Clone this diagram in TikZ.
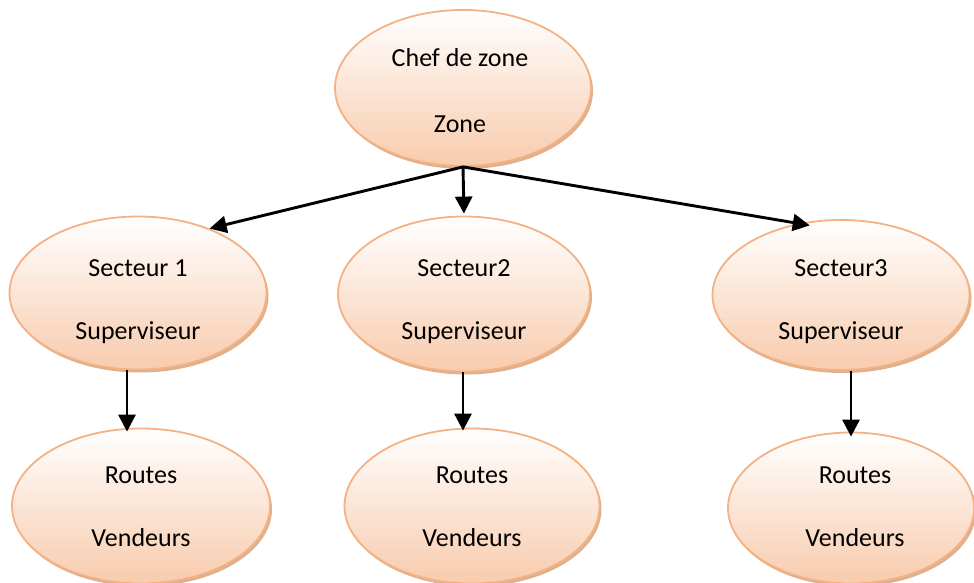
\documentclass[tikz,border=0pt]{standalone}
\usepackage{fontspec}
\setmainfont{Carlito}
\usetikzlibrary{shapes.geometric,shadows,arrows.meta}
\definecolor{peachline}{HTML}{F4B183}
\definecolor{peachfill}{HTML}{F8CBAD}
\definecolor{peachshade}{HTML}{D39566}
\begin{document}
\begin{tikzpicture}[x=1pt,y=-1pt,
  oval/.style={ellipse, draw=peachline, line width=1.8pt,
    top color=white, bottom color=peachfill, inner sep=0pt,
    drop shadow={shadow xshift=2pt, shadow yshift=-3pt, fill=peachshade, opacity=0.75}},
  txt/.style={align=center, inner sep=0pt, font=\fontsize{26}{63}\selectfont},
  link/.style={line width=2.9pt, -{Triangle[length=17pt,width=17pt]}}]
\useasboundingbox (0,0) rectangle (974,583);

% zone head
\node[oval, minimum width=256pt, minimum height=156pt] (chef) at (463,88) {};
\node[txt, font=\fontsize{26}{66}\selectfont] (chefT) at ([xshift=-3pt,yshift=-3pt]chef.center) {Chef de zone\\Zone};

% sectors
\node[oval, minimum width=257pt, minimum height=153pt] (s1) at (138,293) {};
\node[oval, minimum width=252pt, minimum height=155pt] (s2) at (464,294) {};
\node[oval, minimum width=257pt, minimum height=150pt] (s3) at (841,295) {};
\node[txt] (s1T) at ([yshift=-9pt]s1.center) {Secteur 1\\Superviseur};
\node[txt] (s2T) at ([yshift=-8pt]s2.center) {Secteur2\\Superviseur};
\node[txt] (s3T) at ([yshift=-7pt]s3.center) {Secteur3\\Superviseur};

% routes
\node[oval, minimum width=258pt, minimum height=155pt] (r1) at (141,506) {};
\node[oval, minimum width=255pt, minimum height=155pt] (r2) at (472,506) {};
\node[oval, minimum width=246pt, minimum height=151pt] (r3) at (851,508) {};
\node[txt] (r1T) at ([yshift=-1pt]r1.center) {Routes\\Vendeurs};
\node[txt] (r2T) at ([yshift=-1pt]r2.center) {Routes\\Vendeurs};
\node[txt] (r3T) at ([xshift=4pt,yshift=1pt]r3.center) {Routes\\Vendeurs};

% links from the zone head
\draw[link] (chef.south) -- (s1.42);
\draw[link] (chef.south) -- ([yshift=2pt]s2.north);
\draw[link] (chef.south) -- ([yshift=-4pt]s3.113);

% links from sectors to routes
\coordinate (a1) at ([xshift=-11pt]s1.south);
\coordinate (a2) at ([xshift=-1pt]s2.south);
\coordinate (a3) at ([xshift=10pt]s3.south);
\draw[link] (a1) -- ([yshift=-4pt]a1 |- r1.north);
\draw[link] (a2) -- ([yshift=-3pt]a2 |- r2.north);
\draw[link] (a3) -- ([yshift=-5pt]a3 |- r3.north);
\end{tikzpicture}
\end{document}
